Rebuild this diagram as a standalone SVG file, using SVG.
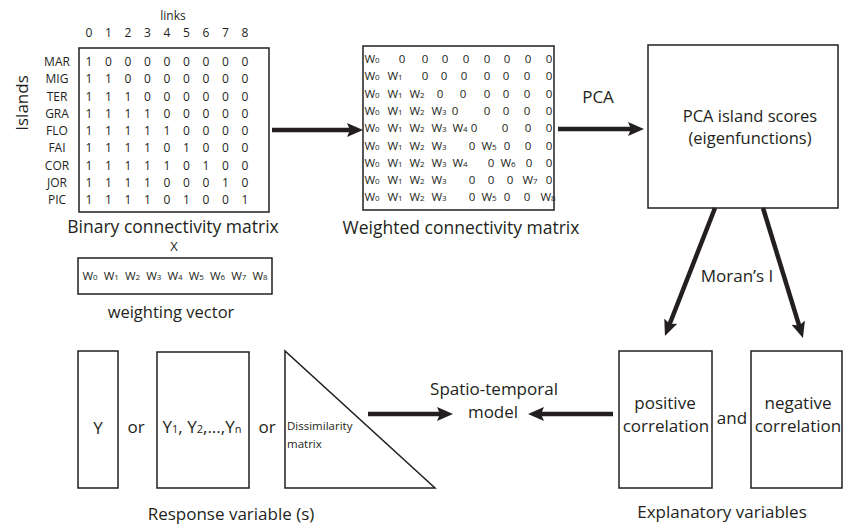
<svg xmlns="http://www.w3.org/2000/svg" width="844" height="525" viewBox="0 0 844 525">
<style>
text{font-family:"Open Sans","Liberation Sans",sans-serif;fill:#231f20}
tspan{fill:#231f20}
.box{fill:#fff;stroke:#231f20;stroke-width:1.5}
.lbl{font-size:17.5px;text-anchor:middle}
.m{font-size:12px;text-anchor:middle}
.w{font-size:11.5px;text-anchor:middle}
.sub{font-size:8px}
.arr{stroke:#231f20;stroke-width:4.5;fill:none}
</style>
<defs>
<marker id="ah" markerUnits="userSpaceOnUse" markerWidth="18" markerHeight="14" refX="6" refY="7" orient="auto">
<path d="M0,0 L16,7 L0,14 L3,7 Z" fill="#231f20"/>
</marker>
</defs>

<g id="binary-matrix">
<text class="m" x="173" y="20">links</text>
<text class="m" x="89 108.5 128 147.5 167 186.5 206 225.5 245" y="37">012345678</text>
<text class="lbl" transform="translate(28,103) rotate(-90)" style="font-size:17px">Islands</text>
<rect class="box" x="79" y="48" width="190" height="164"/>
<g class="m">
<text class="m" x="57" y="66">MAR</text>
<text class="m" x="57" y="83.3">MIG</text>
<text class="m" x="57" y="100.5">TER</text>
<text class="m" x="57" y="117.8">GRA</text>
<text class="m" x="57" y="135">FLO</text>
<text class="m" x="57" y="152.3">FAI</text>
<text class="m" x="57" y="169.5">COR</text>
<text class="m" x="57" y="186.8">JOR</text>
<text class="m" x="57" y="204">PIC</text>
</g>
<text class="m" x="89 108.5 128 147.5 167 186.5 206 225.5 245" y="66">100000000</text>
<text class="m" x="89 108.5 128 147.5 167 186.5 206 225.5 245" y="83.3">110000000</text>
<text class="m" x="89 108.5 128 147.5 167 186.5 206 225.5 245" y="100.5">111000000</text>
<text class="m" x="89 108.5 128 147.5 167 186.5 206 225.5 245" y="117.8">111100000</text>
<text class="m" x="89 108.5 128 147.5 167 186.5 206 225.5 245" y="135">111110000</text>
<text class="m" x="89 108.5 128 147.5 167 186.5 206 225.5 245" y="152.3">111101000</text>
<text class="m" x="89 108.5 128 147.5 167 186.5 206 225.5 245" y="169.5">111110100</text>
<text class="m" x="89 108.5 128 147.5 167 186.5 206 225.5 245" y="186.8">111100010</text>
<text class="m" x="89 108.5 128 147.5 167 186.5 206 225.5 245" y="204">111101001</text>
<text class="lbl" x="173" y="233">Binary connectivity matrix</text>
<text class="m" x="174" y="251" style="font-size:13px">X</text>
</g>

<g id="weighting-vector">
<rect class="box" x="78" y="258" width="194" height="36"/>
<text class="w" y="280"><tspan x="90">W<tspan class="sub">0</tspan></tspan><tspan x="111.25">W<tspan class="sub">1</tspan></tspan><tspan x="132.5">W<tspan class="sub">2</tspan></tspan><tspan x="153.75">W<tspan class="sub">3</tspan></tspan><tspan x="175">W<tspan class="sub">4</tspan></tspan><tspan x="196.25">W<tspan class="sub">5</tspan></tspan><tspan x="217.5">W<tspan class="sub">6</tspan></tspan><tspan x="238.75">W<tspan class="sub">7</tspan></tspan><tspan x="260">W<tspan class="sub">8</tspan></tspan></text>
<text class="lbl" x="171" y="318" style="font-size:16.5px">weighting vector</text>
</g>

<g id="weighted-matrix">
<rect class="box" x="363" y="46" width="191" height="164"/>
<text class="w" y="63"><tspan x="372">W<tspan class="sub">0</tspan></tspan><tspan x="402">0</tspan><tspan x="425">0</tspan><tspan x="445">0</tspan><tspan x="466">0</tspan><tspan x="487">0</tspan><tspan x="507">0</tspan><tspan x="528">0</tspan><tspan x="549">0</tspan></text>
<text class="w" y="80.3"><tspan x="372">W<tspan class="sub">0</tspan></tspan><tspan x="395">W<tspan class="sub">1</tspan></tspan><tspan x="425">0</tspan><tspan x="444">0</tspan><tspan x="464">0</tspan><tspan x="487">0</tspan><tspan x="506">0</tspan><tspan x="527">0</tspan><tspan x="549">0</tspan></text>
<text class="w" y="97.6"><tspan x="372">W<tspan class="sub">0</tspan></tspan><tspan x="395">W<tspan class="sub">1</tspan></tspan><tspan x="417">W<tspan class="sub">2</tspan></tspan><tspan x="440">0</tspan><tspan x="463">0</tspan><tspan x="487">0</tspan><tspan x="506">0</tspan><tspan x="527">0</tspan><tspan x="549">0</tspan></text>
<text class="w" y="114.9"><tspan x="372">W<tspan class="sub">0</tspan></tspan><tspan x="395">W<tspan class="sub">1</tspan></tspan><tspan x="417">W<tspan class="sub">2</tspan></tspan><tspan x="439">W<tspan class="sub">3</tspan></tspan><tspan x="455">0</tspan><tspan x="487">0</tspan><tspan x="506">0</tspan><tspan x="527">0</tspan><tspan x="549">0</tspan></text>
<text class="w" y="132.2"><tspan x="372">W<tspan class="sub">0</tspan></tspan><tspan x="395">W<tspan class="sub">1</tspan></tspan><tspan x="417">W<tspan class="sub">2</tspan></tspan><tspan x="439">W<tspan class="sub">3</tspan></tspan><tspan x="460">W<tspan class="sub">4</tspan></tspan><tspan x="474">0</tspan><tspan x="505">0</tspan><tspan x="528">0</tspan><tspan x="549">0</tspan></text>
<text class="w" y="149.5"><tspan x="372">W<tspan class="sub">0</tspan></tspan><tspan x="395">W<tspan class="sub">1</tspan></tspan><tspan x="417">W<tspan class="sub">2</tspan></tspan><tspan x="439">W<tspan class="sub">3</tspan></tspan><tspan x="472">0</tspan><tspan x="489">W<tspan class="sub">5</tspan></tspan><tspan x="507">0</tspan><tspan x="528">0</tspan><tspan x="549">0</tspan></text>
<text class="w" y="166.8"><tspan x="372">W<tspan class="sub">0</tspan></tspan><tspan x="395">W<tspan class="sub">1</tspan></tspan><tspan x="417">W<tspan class="sub">2</tspan></tspan><tspan x="439">W<tspan class="sub">3</tspan></tspan><tspan x="460">W<tspan class="sub">4</tspan></tspan><tspan x="491">0</tspan><tspan x="508">W<tspan class="sub">6</tspan></tspan><tspan x="529">0</tspan><tspan x="549">0</tspan></text>
<text class="w" y="184.1"><tspan x="372">W<tspan class="sub">0</tspan></tspan><tspan x="395">W<tspan class="sub">1</tspan></tspan><tspan x="417">W<tspan class="sub">2</tspan></tspan><tspan x="439">W<tspan class="sub">3</tspan></tspan><tspan x="472">0</tspan><tspan x="491">0</tspan><tspan x="510">0</tspan><tspan x="530">W<tspan class="sub">7</tspan></tspan><tspan x="549">0</tspan></text>
<text class="w" y="201.4"><tspan x="372">W<tspan class="sub">0</tspan></tspan><tspan x="395">W<tspan class="sub">1</tspan></tspan><tspan x="417">W<tspan class="sub">2</tspan></tspan><tspan x="439">W<tspan class="sub">3</tspan></tspan><tspan x="472">0</tspan><tspan x="489">W<tspan class="sub">5</tspan></tspan><tspan x="507">0</tspan><tspan x="527">0</tspan><tspan x="548">W<tspan class="sub">8</tspan></tspan></text>
<text class="lbl" x="461" y="234">Weighted connectivity matrix</text>
</g>

<g id="pca-scores">
<rect class="box" x="648" y="45" width="190" height="163"/>
<text class="lbl" x="750" y="122" style="font-size:16.5px">PCA island scores</text>
<text class="lbl" x="750" y="144" style="font-size:16.5px">(eigenfunctions)</text>
</g>

<g id="positive-correlation">
<rect class="box" x="619" y="351" width="93" height="137"/>
<text class="lbl" x="665" y="409" style="font-size:17px">positive</text>
<text class="lbl" x="666" y="432" style="font-size:17px">correlation</text>
</g>
<text class="lbl" x="732" y="424" style="font-size:17px">and</text>
<g id="negative-correlation">
<rect class="box" x="751" y="351" width="91" height="137"/>
<text class="lbl" x="798" y="409" style="font-size:17px">negative</text>
<text class="lbl" x="798" y="432" style="font-size:17px">correlation</text>
</g>
<text class="lbl" x="722" y="518" style="font-size:17px">Explanatory variables</text>

<g id="model">
<text class="lbl" x="494" y="395" style="font-size:17px">Spatio-temporal</text>
<text class="lbl" x="493" y="418" style="font-size:17px">model</text>
</g>

<g id="response-y">
<rect class="box" x="78" y="351" width="40" height="137"/>
<text class="lbl" x="98" y="434" style="font-size:17px">Y</text>
</g>
<text class="lbl" x="136" y="433" style="font-size:17px">or</text>
<g id="response-multi">
<rect class="box" x="157" y="352" width="92" height="136"/>
<text class="lbl" x="202" y="433" style="font-size:17px">Y<tspan style="font-size:11px">1</tspan>, Y<tspan style="font-size:11px">2</tspan>,...,Y<tspan style="font-size:11px">n</tspan></text>
</g>
<text class="lbl" x="267" y="433" style="font-size:17px">or</text>
<g id="dissimilarity">
<path d="M285,351 L285,488 L435,488 Z" fill="#fff" stroke="#231f20" stroke-width="1.5"/>
<text x="287" y="430" style="font-size:11.5px">Dissimilarity</text>
<text x="287" y="448" style="font-size:11.5px">matrix</text>
</g>
<text class="lbl" x="231" y="520" style="font-size:17px">Response variable (s)</text>

<g id="connectors">
<line class="arr" x1="272" y1="130" x2="353" y2="130" marker-end="url(#ah)"/>
<line class="arr" x1="558" y1="129" x2="634" y2="129" marker-end="url(#ah)"/>
<text class="lbl" x="598" y="103" style="font-size:17px">PCA</text>
<line class="arr" x1="715" y1="208" x2="668.6" y2="326.7" marker-end="url(#ah)"/>
<line class="arr" x1="763" y1="208" x2="800" y2="328.4" marker-end="url(#ah)"/>
<text class="lbl" x="737" y="282" style="font-size:17px">Moran’s I</text>
<line class="arr" x1="368" y1="414" x2="443" y2="414" marker-end="url(#ah)"/>
<line class="arr" x1="613" y1="414" x2="538" y2="414" marker-end="url(#ah)"/>
</g>
</svg>
